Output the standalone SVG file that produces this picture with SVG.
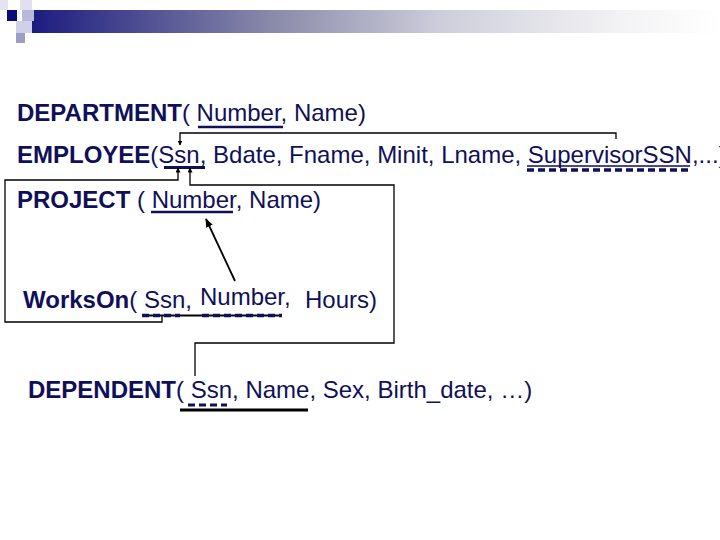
<svg xmlns="http://www.w3.org/2000/svg" width="720" height="540" viewBox="0 0 720 540">
<defs>
<linearGradient id="bar" x1="0" y1="0" x2="1" y2="0">
<stop offset="0" stop-color="#1c1c80"/>
<stop offset="0.35" stop-color="#8a8aaa"/>
<stop offset="0.6" stop-color="#cfcfdc"/>
<stop offset="0.85" stop-color="#f2f2f4"/>
<stop offset="1" stop-color="#ffffff"/>
</linearGradient>
<marker id="ah" viewBox="0 0 10 10" refX="9" refY="5" markerWidth="5" markerHeight="5" orient="auto" markerUnits="userSpaceOnUse">
<path d="M0,0 L10,5 L0,10 z" fill="#000"/>
</marker>
<marker id="ah2" viewBox="0 0 10 10" refX="9" refY="5" markerWidth="9" markerHeight="9" orient="auto" markerUnits="userSpaceOnUse">
<path d="M0,1 L10,5 L0,9 z" fill="#000"/>
</marker>
</defs>
<style>
text{font-family:"Liberation Sans",Arial,sans-serif;font-size:24px;fill:#10105a}
.b{font-weight:bold}
.c{fill:none;stroke:#000;stroke-width:1.3}
.u{stroke:#10105a;stroke-width:2.5}
.d{stroke:#10105a;stroke-width:3.5;stroke-dasharray:7,4}
.k{stroke:#000;stroke-width:3}
</style>
<rect width="720" height="540" fill="#fff"/>
<g id="header">
<rect x="32" y="10" width="688" height="23" fill="url(#bar)"/>
<rect x="0" y="0" width="8" height="10" fill="#e4e4f0"/>
<rect x="20" y="0" width="12" height="10" fill="#e0e0ee"/>
<rect x="7" y="10" width="10" height="11" fill="#0c0c78"/>
<rect x="22" y="10" width="12" height="11" fill="#b8b8da"/>
<rect x="16" y="21" width="16" height="12" fill="#d0d0e8"/>
<rect x="16" y="33" width="9" height="10" fill="#9c9cc8"/>
</g>
<g id="department">
<text x="17" y="121"><tspan class="b">DEPARTMENT</tspan>( Number, Name)</text>
<line class="u" x1="198" y1="127" x2="283" y2="127"/>
</g>
<g id="employee">
<text x="17" y="163"><tspan class="b">EMPLOYEE</tspan>(Ssn, Bdate, Fname, Minit, Lname, SupervisorSSN,...)</text>
<line class="u" x1="164" y1="167.5" x2="205" y2="167.5" style="stroke-width:3"/>
<line x1="527" y1="166" x2="690" y2="166" stroke="#10105a" stroke-width="1.5"/>
<line class="d" x1="527" y1="170" x2="690" y2="170"/>
</g>
<g id="project">
<text x="17" y="208"><tspan class="b">PROJECT</tspan> ( Number, Name)</text>
<line class="u" x1="151" y1="212" x2="233" y2="212"/>
</g>
<g id="workson">
<text x="23" y="308"><tspan class="b">WorksOn</tspan>( Ssn,</text>
<text x="200" y="305">Number,</text>
<text x="305" y="308">Hours)</text>
<line x1="142" y1="315.5" x2="282" y2="315.5" stroke="#000" stroke-width="2"/>
<line class="d" x1="142" y1="315.5" x2="180" y2="315.5"/>
<line class="d" x1="202" y1="315.5" x2="282" y2="315.5"/>
</g>
<g id="dependent">
<text x="28" y="398"><tspan class="b">DEPENDENT</tspan>( Ssn, Name, Sex, Birth_date, …)</text>
<line class="d" x1="188" y1="405" x2="227" y2="405" style="stroke-width:3"/>
<line class="k" x1="180" y1="410" x2="308" y2="410"/>
</g>
<g id="connectors">
<polyline class="c" points="616,139 616,133 180,133 180,145" marker-end="url(#ah)"/>
<polyline class="c" points="162,316 162,322 5,322 5,180 178,180 178,168" marker-end="url(#ah)"/>
<polyline class="c" points="195,376 195,343 394,343 394,185 190,185 190,168" marker-end="url(#ah)"/>
<line class="c" x1="235" y1="281" x2="206" y2="219" marker-end="url(#ah2)" style="stroke-width:1.8"/>
</g>
</svg>
